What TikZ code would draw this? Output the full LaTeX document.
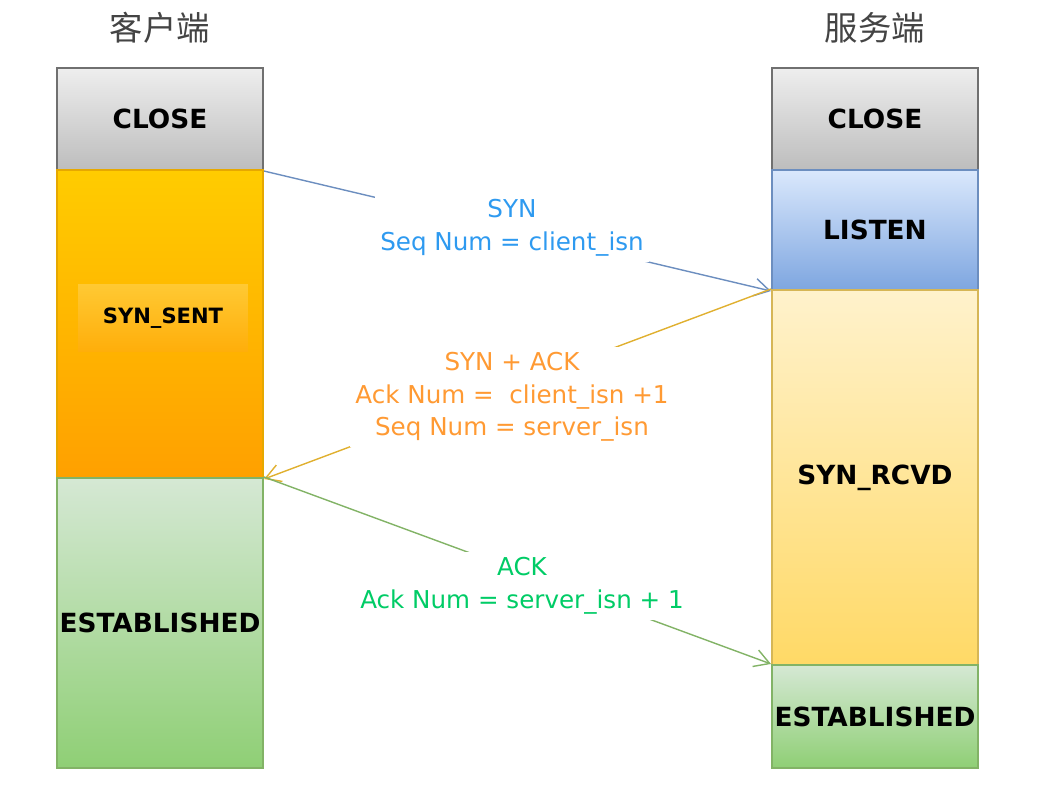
\documentclass[tikz,border=0pt]{standalone}
\usepackage{fontspec}
\setmainfont{DejaVu Sans}
\newfontfamily\cjk{Noto Sans CJK SC}
\usetikzlibrary{arrows.meta}

\definecolor{closetop}{HTML}{EEEEEE}
\definecolor{closebot}{HTML}{BDBDBD}
\definecolor{closeline}{HTML}{707070}
\definecolor{senttop}{HTML}{FFCC00}
\definecolor{sentbot}{HTML}{FFA000}
\definecolor{sentline}{HTML}{E6A800}
\definecolor{lbltop}{HTML}{FFC933}
\definecolor{lblbot}{HTML}{FFAE0A}
\definecolor{esttop}{HTML}{D5E8D4}
\definecolor{estbot}{HTML}{8FCF75}
\definecolor{estline}{HTML}{82B366}
\definecolor{listentop}{HTML}{DAE8FC}
\definecolor{listenbot}{HTML}{7EA6E0}
\definecolor{listenline}{HTML}{6C8EBF}
\definecolor{rcvdtop}{HTML}{FFF2CC}
\definecolor{rcvdbot}{HTML}{FFD966}
\definecolor{rcvdline}{HTML}{D6B656}
\definecolor{titlegray}{HTML}{444444}
\definecolor{synline}{HTML}{6C8EBF}
\definecolor{synackline}{HTML}{E0B030}
\definecolor{ackline}{HTML}{82B366}
\definecolor{syntext}{HTML}{2E9AF0}
\definecolor{synacktext}{HTML}{FF9A33}
\definecolor{acktext}{HTML}{00CC66}

\tikzset{
  state/.style={draw, line width=1.2pt, minimum width=4.12cm, inner sep=0pt,
    font=\fontsize{15}{17}\selectfont\bfseries},
  msg/.style={fill=white, align=center, inner sep=3pt,
    font=\fontsize{14}{18.5}\selectfont},
  link/.style={line width=0.8pt, -{Straight Barb[length=3mm,width=3.5mm]}},
  title/.style={font=\cjk\fontsize{19}{19}\selectfont, text=titlegray}
}

\begin{document}
\begin{tikzpicture}[x=0.02cm,y=-0.02cm]
  \useasboundingbox (0,0) rectangle (1041,801);
  \node[title] (ctitle) at (160,28) {客户端};
  \node[title] (stitle) at (875,28) {服务端};
  % client side
  \node[state, top color=closetop, bottom color=closebot, draw=closeline, minimum height=2.04cm] (cclose) at (160,119) {CLOSE};
  \node[state, top color=senttop, bottom color=sentbot, draw=sentline, minimum height=6.16cm] (synsent) at (160,324) {};
  \node[state, top color=esttop, bottom color=estbot, draw=estline, minimum height=5.8cm] (cest) at (160,623) {ESTABLISHED};
  \node[top color=lbltop, bottom color=lblbot, minimum width=3.4cm, minimum height=1.34cm,
    font=\fontsize{12}{14}\selectfont\bfseries] (sentlbl) at (163,318) {SYN\_SENT};
  % server side
  \node[state, top color=closetop, bottom color=closebot, draw=closeline, minimum height=2.04cm] (sclose) at (875,119) {CLOSE};
  \node[state, top color=listentop, bottom color=listenbot, draw=listenline, minimum height=2.4cm] (listen) at (875,230) {LISTEN};
  \node[state, top color=rcvdtop, bottom color=rcvdbot, draw=rcvdline, minimum height=7.5cm] (synrcvd) at (875,477.5) {SYN\_RCVD};
  \node[state, top color=esttop, bottom color=estbot, draw=estline, minimum height=2.06cm] (sest) at (875,716.5) {ESTABLISHED};
  % handshake
  \draw[link, draw=synline] (cclose.south east) -- (listen.south west);
  \draw[link, draw=synackline] (synrcvd.north west) -- (synsent.south east);
  \draw[link, draw=ackline] (cest.north east) -- (sest.north west);
  \node[msg, text=syntext] (synmsg) at (512,228) {SYN\\Seq Num = client\_isn};
  \node[msg, text=synacktext] (synackmsg) at (512,397) {SYN + ACK\\Ack Num =\ \ client\_isn +1\\Seq Num = server\_isn};
  \node[msg, text=acktext] (ackmsg) at (522,586) {ACK\\Ack Num = server\_isn + 1};
\end{tikzpicture}
\end{document}
